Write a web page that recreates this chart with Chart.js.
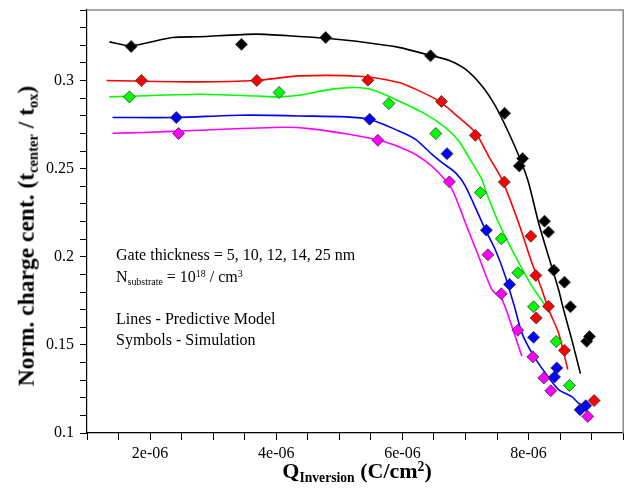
<!DOCTYPE html>
<html>
<head>
<meta charset="utf-8">
<script src="https://cdn.jsdelivr.net/npm/chart.js@4/dist/chart.umd.min.js"></script>
<style>
  html, body { margin:0; padding:0; background:#fff; }
  #wrap { position:relative; width:630px; height:488px; overflow:hidden; font-family:'Liberation Serif','Times New Roman',serif; color:#000; }
  #c { position:absolute; left:0; top:0; }
  .txt { position:absolute; white-space:nowrap; font-size:16px; line-height:1; }
  .ytitle { position:absolute; left:27px; top:236px; transform:translate(-50%,-50%) rotate(-90deg); white-space:nowrap; font-weight:bold; font-size:23.5px; }
  .xtitle { position:absolute; left:357px; top:472px; transform:translate(-50%,-50%); white-space:nowrap; font-weight:bold; font-size:22px; }
  sub.s { font-size:62%; vertical-align:-0.25em; }
  sup.p { font-size:62%; vertical-align:0.55em; }
</style>
</head>
<body>
<div id="wrap">
  <canvas id="c" width="630" height="488"></canvas>
  <div class="ytitle">Norm. charge cent. (t<sub class="s">center</sub> / t<sub class="s">ox</sub>)</div>
  <div class="xtitle">Q<sub class="s">Inversion</sub> (C/cm<sup class="p">2</sup>)</div>
  <div class="txt" style="left:116px;top:247px;">Gate thickness = 5, 10, 12, 14, 25 nm</div>
  <div class="txt" style="left:116px;top:269px;">N<sub class="s">substrate</sub> = 10<sup class="p">18</sup> / cm<sup class="p">3</sup></div>
  <div class="txt" style="left:116px;top:311px;">Lines - Predictive Model</div>
  <div class="txt" style="left:116px;top:332px;">Symbols - Simulation</div>
</div>
<script>
// ---------- tick labels ----------
const xTickValues = [2e-6, 4e-6, 6e-6, 8e-6];
const xTickLabels = ['2e-06', '4e-06', '6e-06', '8e-06'];
const yTickValues = [0.1, 0.15, 0.2, 0.25, 0.3];
const yTickLabels = ['0.1', '0.15', '0.2', '0.25', '0.3'];

// ---------- model lines (x in C/cm^2, y normalised) ----------
const blackLineX = [1.356e-6,1.699e-6,2.353e-6,2.780e-6,3.681e-6,4.362e-6,4.784e-6,5.417e-6,5.943e-6,6.470e-6,6.734e-6,6.998e-6,7.261e-6,7.473e-6,7.683e-6,7.868e-6,8.000e-6,8.158e-6,8.316e-6,8.475e-6,8.553e-6,8.685e-6,8.822e-6];
const blackLineY = [0.3219,0.3197,0.3244,0.3248,0.3263,0.3250,0.3240,0.3216,0.3188,0.3140,0.3115,0.3064,0.2969,0.2856,0.2705,0.2553,0.2420,0.2193,0.2003,0.1814,0.1702,0.1530,0.1337];

const redLineX = [1.309e-6,2.780e-6,3.681e-6,4.362e-6,5.363e-6,5.943e-6,6.208e-6,6.576e-6,6.893e-6,7.157e-6,7.367e-6,7.577e-6,7.841e-6,8.052e-6,8.210e-6,8.316e-6,8.475e-6,8.621e-6];
const redLineY = [0.3000,0.2992,0.3000,0.3026,0.3023,0.2989,0.2951,0.2884,0.2791,0.2705,0.2570,0.2439,0.2193,0.1966,0.1814,0.1702,0.1568,0.1360];

const greenLineX = [1.356e-6,2.780e-6,3.681e-6,4.045e-6,4.362e-6,4.888e-6,5.258e-6,5.520e-6,5.943e-6,6.366e-6,6.682e-6,6.893e-6,7.103e-6,7.261e-6,7.313e-6,7.525e-6,7.789e-6,8.052e-6,8.290e-6];
const greenLineY = [0.2907,0.2922,0.2912,0.2907,0.2916,0.2951,0.2960,0.2947,0.2884,0.2809,0.2733,0.2657,0.2534,0.2439,0.2382,0.2193,0.2003,0.1833,0.1710];

const blueLineX = [1.404e-6,2.416e-6,3.413e-6,4.362e-6,5.417e-6,5.943e-6,6.208e-6,6.470e-6,6.628e-6,6.840e-6,6.998e-6,7.313e-6,7.471e-6,7.631e-6,7.789e-6,7.893e-6,8.052e-6,8.264e-6,8.475e-6,8.685e-6,8.791e-6,8.897e-6];
const blueLineY = [0.2790,0.2790,0.2803,0.2799,0.2784,0.2714,0.2666,0.2581,0.2534,0.2477,0.2401,0.2155,0.2041,0.1890,0.1701,0.1568,0.1455,0.1341,0.1246,0.1206,0.1170,0.1151];

const magentaLineX = [1.404e-6,1.910e-6,2.780e-6,4.124e-6,4.520e-6,5.153e-6,5.679e-6,6.102e-6,6.366e-6,6.576e-6,6.787e-6,6.998e-6,7.208e-6,7.419e-6,7.577e-6,7.735e-6,7.893e-6];
const magentaLineY = [0.2701,0.2705,0.2718,0.2735,0.2727,0.2695,0.2657,0.2600,0.2543,0.2477,0.2382,0.2193,0.2003,0.1814,0.1758,0.1606,0.1435];

// ---------- simulation symbols ----------
const blackSymX = [1.70e-6,3.449e-6,4.784e-6,6.445e-6,7.62e-6,7.905e-6,7.853e-6,8.253e-6,8.316e-6,8.400e-6,8.569e-6,8.664e-6,8.922e-6,8.965e-6];
const blackSymY = [0.3193,0.3205,0.3244,0.3140,0.2814,0.2557,0.2515,0.2202,0.2140,0.1924,0.1856,0.1716,0.1520,0.1547];

const redSymX = [1.862e-6,3.693e-6,5.453e-6,6.619e-6,7.157e-6,7.615e-6,8.036e-6,8.115e-6,8.316e-6,8.121e-6,8.569e-6,9.039e-6];
const redSymY = [0.3000,0.3000,0.3002,0.2881,0.2689,0.2424,0.2117,0.1894,0.1719,0.1653,0.1469,0.1184];

const greenSymX = [1.673e-6,4.045e-6,5.785e-6,6.529e-6,7.236e-6,7.568e-6,7.830e-6,8.079e-6,8.438e-6,8.648e-6];
const greenSymY = [0.2907,0.2932,0.2869,0.2699,0.2364,0.2102,0.1909,0.1716,0.1519,0.1270];

const blueSymX = [2.416e-6,5.480e-6,6.707e-6,7.331e-6,7.699e-6,8.079e-6,8.447e-6,8.411e-6,8.817e-6,8.906e-6];
const blueSymY = [0.2790,0.2780,0.2585,0.2151,0.1843,0.1543,0.1369,0.1318,0.1132,0.1155];

const magentaSymX = [2.452e-6,5.611e-6,6.745e-6,7.356e-6,7.568e-6,7.830e-6,8.068e-6,8.242e-6,8.352e-6,8.938e-6];
const magentaSymY = [0.2699,0.2661,0.2425,0.2011,0.1790,0.1583,0.1432,0.1312,0.1240,0.1094];

const colors = { black:'#000000', red:'#ff0000', green:'#00ff00', blue:'#0000ff', magenta:'#ff00ff' };

function pts(xs, ys) { return xs.map((x, i) => ({ x: x, y: ys[i] })); }
function lineDs(xs, ys, c) {
  return { data: pts(xs, ys), showLine: true, borderColor: c, borderWidth: 1.6, pointRadius: 0, pointHoverRadius: 0, tension: 0.25, fill: false, order: 2 };
}
function symDs(xs, ys, c) {
  return { data: pts(xs, ys), showLine: false, pointStyle: 'rectRot', pointRadius: 6, backgroundColor: c, borderColor: '#333333', borderWidth: 0.8, order: 1 };
}

const datasets = [
  lineDs(blackLineX, blackLineY, colors.black),
  lineDs(redLineX, redLineY, colors.red),
  lineDs(greenLineX, greenLineY, colors.green),
  lineDs(blueLineX, blueLineY, colors.blue),
  lineDs(magentaLineX, magentaLineY, colors.magenta),
  symDs(blackSymX, blackSymY, colors.black),
  symDs(redSymX, redSymY, colors.red),
  symDs(greenSymX, greenSymY, colors.green),
  symDs(blueSymX, blueSymY, colors.blue),
  symDs(magentaSymX, magentaSymY, colors.magenta)
];

function findLabel(v, vals, labels) {
  for (let i = 0; i < vals.length; i++) if (Math.abs(v - vals[i]) < Math.abs(vals[i]) * 1e-6) return labels[i];
  return '';
}

const framePlugin = {
  id: 'frame',
  afterDraw(chart) {
    const a = chart.chartArea, ctx = chart.ctx;
    ctx.save();
    ctx.strokeStyle = '#8a8a8a';
    ctx.lineWidth = 1.5;
    ctx.beginPath();
    ctx.moveTo(a.left, a.top); ctx.lineTo(a.right, a.top); ctx.lineTo(a.right, a.bottom);
    ctx.stroke();
    ctx.restore();
  }
};

const fontSpec = { family: "'Liberation Serif','Times New Roman',serif", size: 16 };

new Chart(document.getElementById('c'), {
  type: 'scatter',
  data: { datasets: datasets },
  plugins: [framePlugin],
  options: {
    responsive: false,
    animation: false,
    layout: { padding: { left: 0, top: 10, right: 5, bottom: 0 } },
    plugins: { legend: { display: false }, tooltip: { enabled: false } },
    scales: {
      x: {
        type: 'linear', min: 1e-6, max: 9.5e-6,
        afterFit(s) { s.height = 55; s.paddingLeft = 0; s.paddingRight = 0; },
        afterBuildTicks(s) { const t = []; for (let i = 0; i <= 17; i++) t.push({ value: 1e-6 + i * 0.5e-6 }); s.ticks = t; },
        ticks: { autoSkip: false, maxRotation: 0, color: '#000', font: fontSpec, padding: 4,
          callback: (v) => findLabel(v, xTickValues, xTickLabels) },
        grid: { drawOnChartArea: false, drawTicks: true, tickLength: 7, color: '#000' },
        border: { display: true, color: '#000', width: 1.2 }
      },
      y: {
        type: 'linear', min: 0.1, max: 0.34,
        afterFit(s) { s.width = 87; s.paddingTop = 0; s.paddingBottom = 0; },
        afterBuildTicks(s) { const t = []; for (let i = 0; i <= 24; i++) t.push({ value: 0.1 + i * 0.01 }); s.ticks = t; },
        ticks: { autoSkip: false, color: '#000', font: fontSpec, padding: 6,
          callback: (v) => findLabel(v, yTickValues, yTickLabels) },
        grid: { drawOnChartArea: false, drawTicks: true, tickLength: 7, color: '#000' },
        border: { display: true, color: '#000', width: 1.2 }
      }
    }
  }
});
</script>
</body>
</html>
